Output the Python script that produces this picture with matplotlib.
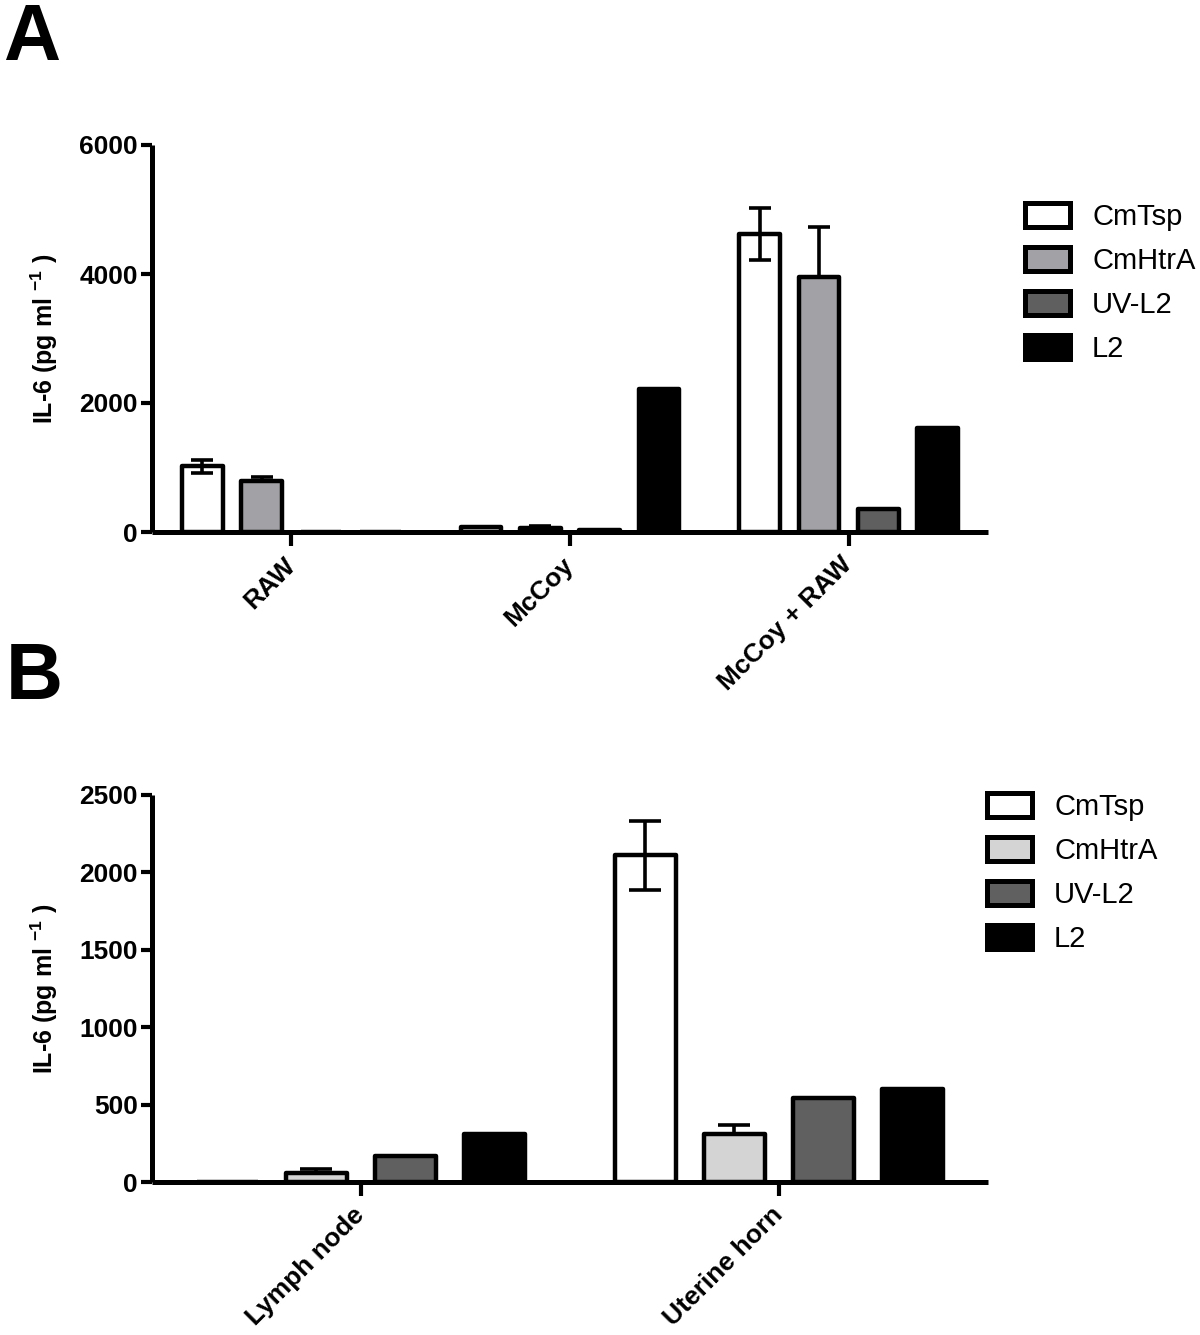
import numpy as np
import matplotlib
matplotlib.use("Agg")
import matplotlib.pyplot as plt
from matplotlib.patches import Patch

plt.rcParams["font.family"] = ["Liberation Sans", "DejaVu Sans"]
plt.rcParams["mathtext.fontset"] = "custom"
plt.rcParams["mathtext.bf"] = "Liberation Sans:bold"
plt.rcParams["mathtext.rm"] = "Liberation Sans"

# ---- data -------------------------------------------------------------
series = ["CmTsp", "CmHtrA", "UV-L2", "L2"]

cats_a = ["RAW", "McCoy", "McCoy + RAW"]
vals_a = {
    "CmTsp": [1020, 85, 4620],
    "CmHtrA": [790, 65, 3950],
    "UV-L2": [0, 35, 360],
    "L2": [0, 2220, 1610],
}
err_a = {
    "CmTsp": [100, 0, 400],
    "CmHtrA": [70, 30, 780],
    "UV-L2": [0, 0, 0],
    "L2": [0, 0, 0],
}

cats_b = ["Lymph node", "Uterine horn"]
vals_b = {
    "CmTsp": [0, 2110],
    "CmHtrA": [60, 310],
    "UV-L2": [165, 545],
    "L2": [310, 600],
}
err_b = {
    "CmTsp": [0, 224],
    "CmHtrA": [25, 55],
    "UV-L2": [0, 0],
    "L2": [0, 0],
}

colors_a = {"CmTsp": "none", "CmHtrA": "#a2a2a6", "UV-L2": "#5f5f5f", "L2": "black"}
colors_b = {"CmTsp": "none", "CmHtrA": "#d4d4d4", "UV-L2": "#606060", "L2": "black"}

W, H = 1200, 1335
fig = plt.figure(figsize=(W / 100, H / 100), dpi=100)

PITCH = 0.213
BAR_W = 0.145
EDGE = 3.2


def px_axes(left, top, right, bottom):
    return fig.add_axes([left / W, 1 - bottom / H, (right - left) / W, (bottom - top) / H])


def draw_panel(ax, cats, vals, errs, colors, ymax, ystep, capsize):
    x = np.arange(len(cats))
    for i, name in enumerate(series):
        pos = x + (i - 1.5) * PITCH
        v = np.array(vals[name], dtype=float)
        e = np.array(errs[name], dtype=float)
        m = e > 0
        if m.any():
            ax.errorbar(pos[m], v[m], yerr=e[m], fmt="none", ecolor="black",
                        elinewidth=2.6, capsize=capsize, capthick=2.6, zorder=1)
        ax.bar(pos, v, width=BAR_W, color=colors[name], edgecolor="black",
               linewidth=EDGE, zorder=2, joinstyle="round")

    ax.set_xlim(-0.5, len(cats) - 0.5)
    ax.set_ylim(0, ymax)
    ax.set_yticks(np.arange(0, ymax + 1, ystep))
    ax.set_xticks(x)
    ax.set_xticklabels(cats, rotation=45, ha="right", va="center",
                       rotation_mode="anchor", fontsize=19, fontweight="bold")
    for lbl in ax.get_yticklabels():
        lbl.set_fontsize(19)
        lbl.set_fontweight("bold")
    for s in ("top", "right"):
        ax.spines[s].set_visible(False)
    for s in ("left", "bottom"):
        ax.spines[s].set_linewidth(3.6)
        ax.spines[s].set_capstyle("butt")
    ax.tick_params(axis="y", length=8, width=3, pad=2)
    ax.tick_params(axis="x", length=10, width=3, pad=11)
    ax.set_ylabel(r"IL-6 (pg ml $^{\mathbf{-1}}$ )", fontsize=18,
                  fontweight="bold", labelpad=14)
    ax.patch.set_visible(False)


def add_legend(ax, colors, left, top):
    handles = [Patch(facecolor=("white" if colors[n] == "none" else colors[n]),
                     edgecolor="black", linewidth=3.6) for n in series]
    ax.legend(handles, series, loc="upper left",
              bbox_to_anchor=(left / W, 1 - top / H),
              bbox_transform=fig.transFigure, frameon=False,
              fontsize=21, handlelength=1.55, handleheight=0.85,
              handletextpad=0.75, labelspacing=0.55,
              borderpad=0, borderaxespad=0)


ax_a = px_axes(152, 145, 988, 532)
draw_panel(ax_a, cats_a, vals_a, err_a, colors_a, 6000, 2000, 8)
add_legend(ax_a, colors_a, 1025, 203)

ax_b = px_axes(152, 795, 988, 1182)
draw_panel(ax_b, cats_b, vals_b, err_b, colors_b, 2500, 500, 11.5)
add_legend(ax_b, colors_b, 987, 793)

fig.text(3 / W, 1 - 2 / H, "A", fontsize=57, fontweight="bold", va="top", ha="left")
fig.text(6 / W, 1 - 641 / H, "B", fontsize=57, fontweight="bold", va="top", ha="left")

fig.savefig("out.png", dpi=100, facecolor="white")
